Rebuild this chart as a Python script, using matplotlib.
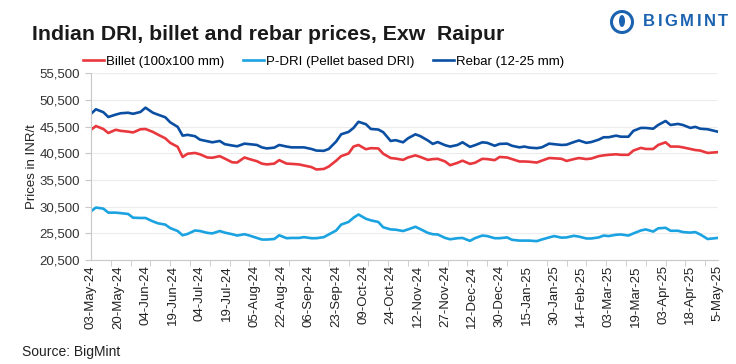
import matplotlib
matplotlib.use("Agg")
import matplotlib.pyplot as plt
from matplotlib.ticker import FixedLocator, StrMethodFormatter
from matplotlib.patches import Circle, Ellipse

# category positions of the sampled points (254 categories on the axis)
pos = [0, 2, 5, 7, 10, 12, 15, 17, 20, 22, 25, 27, 30, 32, 35, 37, 39, 42, 44, 47,
       49, 52, 54, 57, 59, 62, 64, 67, 69, 71, 74, 76, 79, 81, 84, 86, 89, 91, 94, 96,
       99, 101, 104, 106, 108, 111, 113, 116, 118, 121, 123, 126, 128, 131, 133, 136, 138, 140, 143, 145,
       148, 150, 153, 155, 158, 160, 163, 165, 168, 170, 173, 175, 177, 180, 182, 185, 187, 190, 192, 195,
       197, 200, 202, 205, 207, 209, 212, 214, 217, 219, 222, 224, 227, 229, 232, 234, 237, 239, 242, 244,
       246, 249, 253]

billet = [44900, 45600, 45050, 44300, 44900, 44700, 44550, 44400, 45000, 45050,
          44500, 44000, 43300, 42450, 41700, 39800, 40400, 40550, 40300, 39700,
          39650, 39950, 39500, 38800, 38750, 39700, 39400, 39000, 38550, 38400,
          38550, 39200, 38550, 38500, 38400, 38200, 37900, 37450, 37550, 38000,
          39100, 39950, 40450, 41750, 42050, 41250, 41450, 41400, 40400, 39600,
          39500, 39250, 39700, 40100, 39800, 39250, 39400, 39450, 38950, 38250,
          38700, 39100, 38500, 38700, 39450, 39400, 39200, 39800, 39700, 39400,
          38950, 38950, 38900, 38750, 39100, 39600, 39550, 39450, 39050, 39400,
          39600, 39400, 39500, 39950, 40100, 40200, 40300, 40200, 40200, 41000,
          41500, 41300, 41300, 42050, 42550, 41750, 41750, 41600, 41300, 41100,
          41000, 40550, 40700]

dri = [29600, 30300, 30100, 29350, 29350, 29250, 29100, 28400, 28350, 28350,
       27700, 27350, 27100, 26450, 25900, 25100, 25350, 26000, 25900, 25550,
       25450, 25900, 25600, 25300, 25050, 25300, 25050, 24600, 24300, 24300,
       24400, 25100, 24550, 24600, 24600, 24750, 24550, 24550, 24750, 25250,
       26000, 27100, 27600, 28400, 29000, 28200, 27900, 27600, 26600, 26200,
       26150, 25900, 26200, 26700, 26250, 25550, 25300, 25250, 24600, 24350,
       24550, 24600, 24050, 24550, 25050, 24950, 24550, 24550, 24700, 24250,
       24100, 24100, 24100, 24000, 24300, 24700, 24950, 24650, 24700, 25000,
       24850, 24500, 24500, 24700, 25050, 24950, 25200, 25250, 25050, 25450,
       26000, 26200, 25800, 26400, 26500, 25950, 25950, 25700, 25600, 25700,
       25250, 24400, 24600]

rebar = [47900, 48750, 48200, 47300, 47750, 48000, 48100, 47900, 48250, 49050,
         48100, 47750, 47250, 46300, 45450, 43800, 43950, 43700, 43050, 42750,
         42550, 42800, 42200, 41950, 41800, 42300, 42200, 42050, 41600, 41400,
         41550, 42050, 41750, 41600, 41600, 41600, 41300, 41000, 40950, 41300,
         42700, 44050, 44500, 45250, 46400, 45950, 45050, 44950, 44450, 42800,
         42950, 42550, 43300, 44050, 43700, 42900, 42250, 42600, 42000, 41750,
         42050, 42550, 41700, 42000, 42550, 42450, 41900, 42250, 42300, 41900,
         41600, 41750, 41550, 41450, 41600, 42300, 42200, 42050, 42100, 42600,
         42900, 42450, 42600, 43050, 43500, 43500, 43800, 43600, 43600, 44700,
         45250, 45250, 45100, 45800, 46550, 45800, 46000, 45800, 45250, 45450,
         45100, 45000, 44550]

date_labels = ["03-May-24", "20-May-24", "04-Jun-24", "19-Jun-24", "04-Jul-24", "19-Jul-24",
               "05-Aug-24", "22-Aug-24", "06-Sep-24", "23-Sep-24", "09-Oct-24", "24-Oct-24",
               "12-Nov-24", "27-Nov-24", "12-Dec-24", "30-Dec-24", "15-Jan-25", "30-Jan-25",
               "14-Feb-25", "03-Mar-25", "19-Mar-25", "03-Apr-25", "18-Apr-25", "5-May-25"]
label_pos = [i * 11 for i in range(len(date_labels))]
y_ticks = [20500, 25500, 30500, 35500, 40500, 45500, 50500, 55500]

plt.rcParams['font.family'] = ['Liberation Sans', 'DejaVu Sans']

fig = plt.figure(figsize=(7.36, 3.64), dpi=100)
ax = fig.add_axes([0.1236, 0.2863, 0.8514, 0.5123])

ax.plot(pos, billet, color='#e8383d', lw=1.9, label='Billet (100x100 mm)')
ax.plot(pos, dri, color='#1aa3e0', lw=1.9, label='P-DRI (Pellet based DRI)')
ax.plot(pos, rebar, color='#0b4fa3', lw=1.9, label='Rebar (12-25 mm)')

ax.set_xlim(0, 253)
ax.set_ylim(20500, 55500)
ax.set_yticks(y_ticks)
ax.yaxis.set_major_formatter(StrMethodFormatter('{x:,.0f}'))
ax.grid(axis='y', color='#ececec', lw=0.8)
ax.set_axisbelow(True)

ax.xaxis.set_major_locator(FixedLocator(label_pos))
ax.set_xticklabels(date_labels, rotation=90)
ax.xaxis.set_minor_locator(FixedLocator(list(range(0, 254, 8))))
ax.tick_params(axis='x', which='major', length=0, pad=4, labelsize=9.5, colors='#222222')
ax.tick_params(axis='x', which='minor', length=4, color='#c8c8c8')
ax.tick_params(axis='y', length=4, color='#c8c8c8', labelsize=9.5, labelcolor='#333333', pad=4)

for s in ['top', 'right']:
    ax.spines[s].set_visible(False)
for s in ['left', 'bottom']:
    ax.spines[s].set_color('#c8c8c8')
    ax.spines[s].set_linewidth(0.8)

ax.set_ylabel('Prices in INR/t', fontsize=9.5, color='#222222', labelpad=1)

fig.legend(loc='center', bbox_to_anchor=(0.44, 0.83), ncol=3, frameon=False,
           fontsize=9.5, handlelength=1.6, handletextpad=0.15, columnspacing=1.4)

fig.text(0.043, 0.905, 'Indian DRI, billet and rebar prices, Exw  Raipur',
         fontsize=15.3, fontweight='bold', color='#1a1a1a', va='center', ha='left')
fig.text(0.03, 0.033, 'Source: BigMint', fontsize=10, color='#222222',
         va='center', ha='left')

# logo
logo_blue = '#1b63b0'
fig.patches.append(Circle((622, 364 - 22), 10.5, transform=None, fill=False, ec=logo_blue, lw=2.2))
fig.patches.append(Ellipse((622, 364 - 21), 6, 12, transform=None, fc=logo_blue, ec='none'))
letter_x = [643, 657.5, 664.6, 680.1, 696.5, 703.6, 718.1]
for x, ch in zip(letter_x, 'BIGMINT'):
    fig.text(x / 736, 0.94, ch, fontsize=12, fontweight='bold', color=logo_blue,
             va='center', ha='left')

fig.savefig('out.png', dpi=100)
